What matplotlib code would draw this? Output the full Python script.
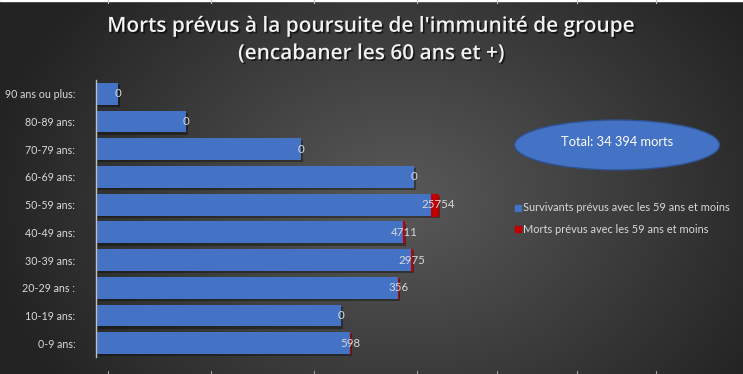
import numpy as np
import matplotlib
matplotlib.use('Agg')
from matplotlib import pyplot as plt
from matplotlib import patheffects as pe
from matplotlib import transforms
from matplotlib.patches import Ellipse

categories = ['90 ans ou plus:', '80-89 ans:', '70-79 ans:', '60-69 ans:', '50-59 ans:',
              '40-49 ans:', '30-39 ans:', '20-29 ans :', '10-19 ans:', '0-9 ans:']
survivants = [77000, 315000, 717500, 1113000, 1172500, 1074500, 1102500, 1057000, 857500, 889000]
morts = [0, 0, 0, 0, 25754, 4711, 2975, 356, 0, 598]
labels = ['0', '0', '0', '0', '25754', '4711', '2975', '356', '0', '598']

title = "Morts prévus à la poursuite de l'immunité de groupe\n(encabaner les 60 ans et +)"
total_text = 'Total: 34 394 morts'
legend_labels = ['Survivants prévus avec les 59 ans et moins', 'Morts prévus avec les 59 ans et moins']

BLUE = '#4472c4'
RED = '#c00000'
TXT = '#d9d9d9'
W, H = 743, 374

fig = plt.figure(figsize=(W / 100, H / 100), dpi=100)

# background radial gradient
bg = fig.add_axes([0, 0, 1, 1])
yy, xx = np.mgrid[0:H, 0:W]
r = np.sqrt(((xx - 400) / 430) ** 2 + ((yy - 200) / 330) ** 2)
shade = np.clip(0.35 - 0.22 * r, 0.14, 0.35)
bg.imshow(np.dstack([shade] * 3), aspect='auto', extent=[0, W, H, 0])
bg.set_xlim(0, W)
bg.set_ylim(H, 0)
bg.axis('off')
# spreadsheet column borders peeking at the edges
bg.axhspan(0, 1.2, color='white')
for x in [108, 211, 314, 417, 497, 577, 656]:
    bg.plot([x, x], [0, 3], color='#bfbfbf', lw=0.8)
    bg.plot([x, x], [371, 374], color='#9a9a9a', lw=0.8)

# bars
ax = fig.add_axes([96 / W, 1 - 357 / H, 404 / W, 277 / H])
ax.patch.set_alpha(0)
y = np.arange(len(categories))
ax.barh(y, survivants, height=0.79, color=BLUE, lw=0, zorder=2)
# soft drop shadow under each bar
shift = ax.transData + transforms.ScaledTranslation(2 / 100, 0, fig.dpi_scale_trans)
for i, (s, m) in enumerate(zip(survivants, morts)):
    ax.barh(i + 0.08, s + m, left=0, height=0.79, color='black', alpha=0.35, lw=0, zorder=1,
            transform=shift)
for i, (s, m) in enumerate(zip(survivants, morts)):
    if m > 0:
        ax.barh(i, m, left=s, height=0.79, color=RED, edgecolor=RED, lw=0.8, zorder=3)
    ax.text(s + m, i, labels[i], ha='center', va='center', color=TXT,
            fontsize=8.3, family='Lato', zorder=4)

ax.set_xlim(0, 404 * 3500)
ax.set_ylim(len(categories) - 0.5, -0.5)
ax.set_yticks(y)
ax.set_yticklabels(categories, family='Lato', fontsize=7.7, color=TXT)
ax.tick_params(axis='y', length=0, pad=15)
ax.set_xticks([])
for side in ['top', 'right', 'bottom']:
    ax.spines[side].set_visible(False)
ax.spines['left'].set_color('#bfbfbf')
ax.spines['left'].set_linewidth(1)
ax.spines['left'].set_zorder(5)

# title
fig.text(0.5, 1 - 40 / H, title, ha='center', va='center', color='#f2f2f2', fontsize=15,
         family='Open Sans', weight='semibold', linespacing=1.4,
         path_effects=[pe.withSimplePatchShadow(offset=(1.2, -1.2), shadow_rgbFace='black', alpha=0.6)])

# total ellipse
bg.add_patch(Ellipse((617, 145), 205, 50, facecolor=BLUE, edgecolor='#2f528f', lw=1))
bg.text(617, 142, total_text, ha='center', va='center', color='white', fontsize=9.3, family='Lato')

# legend
for (yl, c, t) in [(207.5, BLUE, legend_labels[0]), (229, RED, legend_labels[1])]:
    bg.add_patch(plt.Rectangle((515, yl - 3), 6, 6, color=c))
    bg.text(523, yl, t, ha='left', va='center', color=TXT, fontsize=7.9, family='Lato')

fig.savefig('out.png', dpi=100)
